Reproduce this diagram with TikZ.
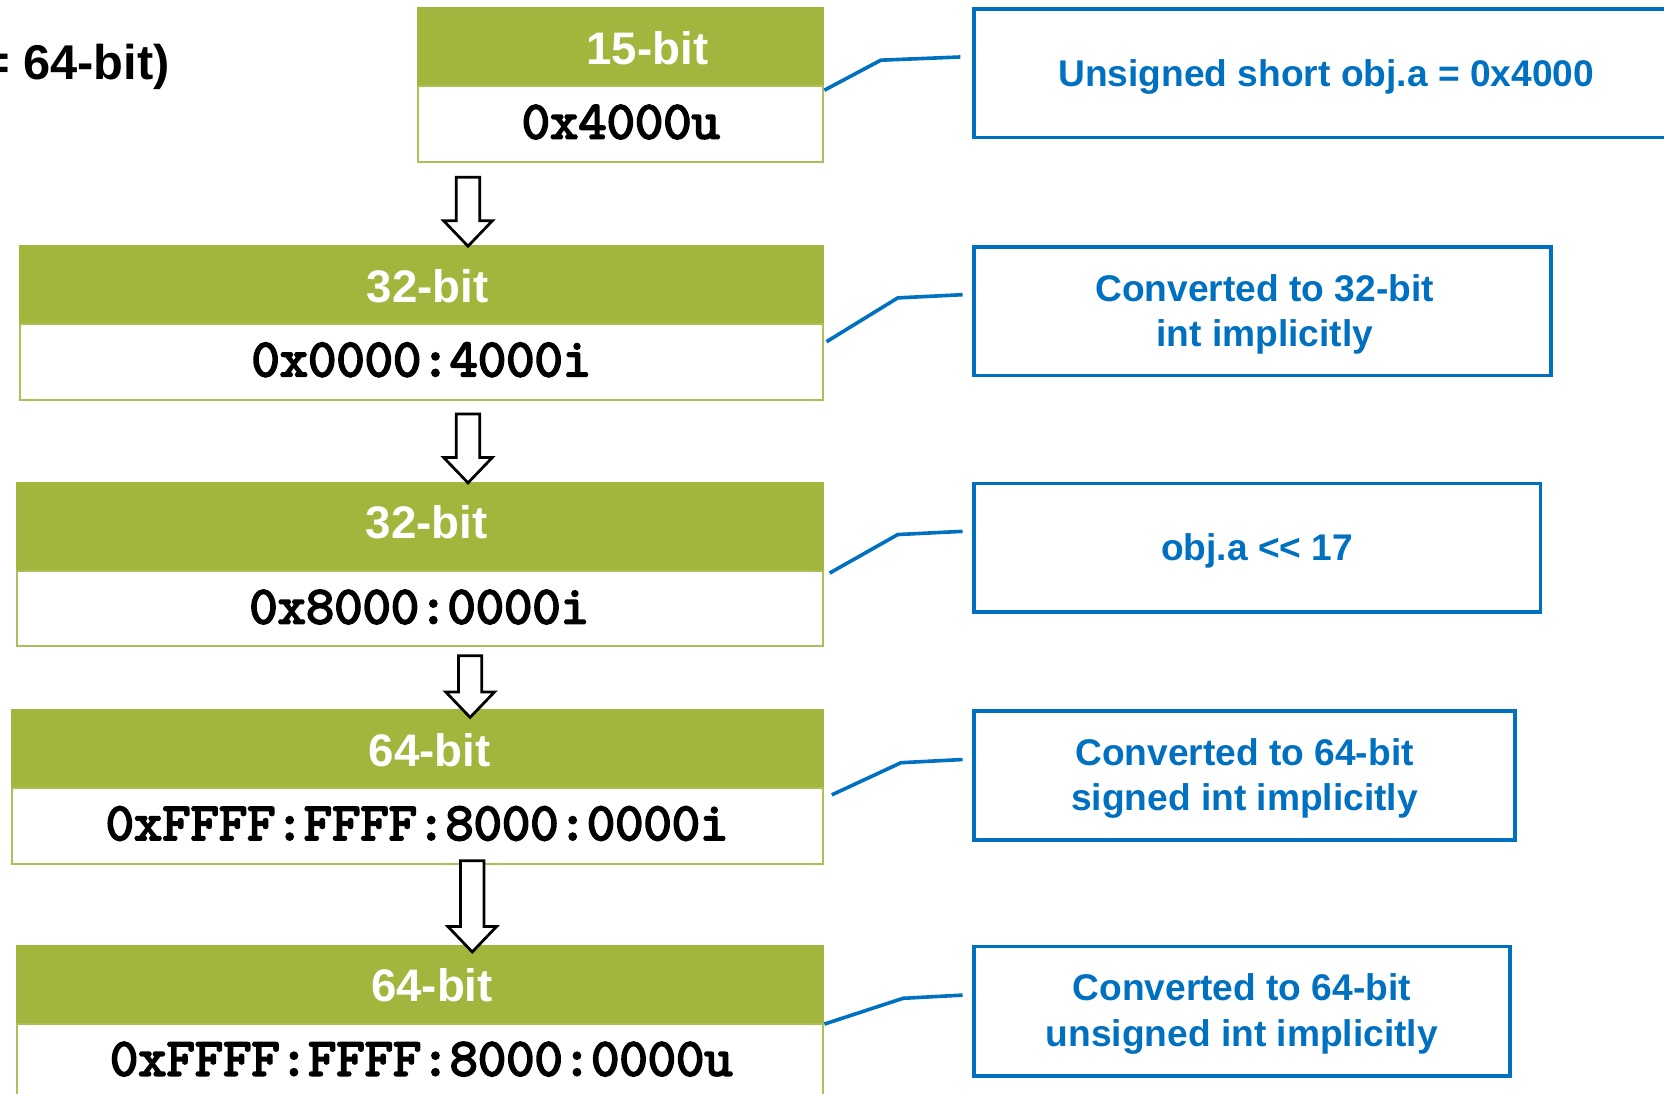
\documentclass[tikz,border=0pt]{standalone}
\usepackage{fontspec}
\setmainfont{Liberation Sans}
\newfontfamily\monob{lmmono10-regular.otf}[FakeBold=3.5]
\usetikzlibrary{calc}
\definecolor{olive}{RGB}{161,182,60}
\definecolor{oliveline}{RGB}{172,192,88}
\definecolor{bblue}{RGB}{0,112,192}
\newcommand\blockarr[2]{\draw[arrowline] ($(#1)+(-11,0)$) -- ($(#1)+(11,0)$) -- ($(#2)+(11,-24)$) -- ($(#2)+(23,-24)$) -- (#2) -- ($(#2)+(-23,-24)$) -- ($(#2)+(-11,-24)$) -- cycle;}
\begin{document}
\begin{tikzpicture}[x=1pt,y=-1pt,
  hdr/.style={draw=olive, fill=olive, line width=1.5pt, anchor=north west, inner sep=0pt},
  body/.style={draw=oliveline, fill=white, line width=1.8pt, anchor=north west, inner sep=0pt},
  hdrtxt/.style={text=white, font=\fontsize{43}{50}\selectfont\bfseries, inner sep=0pt},
  monotxt/.style={text=black, font=\fontsize{50.8}{60}\selectfont\monob, inner sep=0pt},
  note/.style={draw=bblue, line width=3.4pt, anchor=north west, inner sep=0pt},
  notetxt/.style={inner sep=0pt, align=center, text=bblue, font=\fontsize{35}{43}\selectfont\bfseries},
  conn/.style={draw=bblue, line width=3.4pt},
  arrowline/.style={draw=black, fill=white, line width=2.6pt, line join=miter}
]
\useasboundingbox (0,0) rectangle (1568,1030);
\fill[white] (0,0) rectangle (1568,1030);

% title fragment
\node[anchor=base east, inner sep=0pt, font=\fontsize{46}{54}\selectfont\bfseries] (title) at (160,75) {= 64-bit)};

% left column boxes
\node[hdr, minimum width=382pt, minimum height=73pt] (h1) at (393,7) {};
\node[body, minimum width=382pt, minimum height=72pt] (b1) at (393,80) {};
\node[hdrtxt] (h1t) at (610,45) {15-bit};
\node[monotxt] (b1t) at (585,115) {0x4000u};

\node[hdr, minimum width=757pt, minimum height=73pt] (h2) at (18,231) {};
\node[body, minimum width=757pt, minimum height=72pt] (b2) at (18,304) {};
\node[hdrtxt] (h2t) at (403,270) {32-bit};
\node[monotxt] (b2t) at (397,339) {0x0000:4000i};

\node[hdr, minimum width=760pt, minimum height=83pt] (h3) at (15,454) {};
\node[body, minimum width=760pt, minimum height=71pt] (b3) at (15,537) {};
\node[hdrtxt] (h3t) at (402,492) {32-bit};
\node[monotxt] (b3t) at (395,572) {0x8000:0000i};

\node[hdr, minimum width=765pt, minimum height=74pt] (h4) at (10,668) {};
\node[body, minimum width=765pt, minimum height=71pt] (b4) at (10,742) {};
\node[hdrtxt] (h4t) at (405,707) {64-bit};
\node[monotxt] (b4t) at (393,776) {0xFFFF:FFFF:8000:0000i};

\node[hdr, minimum width=760pt, minimum height=74pt] (h5) at (15,890) {};
\node[body, minimum width=760pt, minimum height=74pt] (b5) at (15,964) {};
\node[hdrtxt] (h5t) at (407,928) {64-bit};
\node[monotxt] (b5t) at (397,998) {0xFFFF:FFFF:8000:0000u};

% block arrows
\coordinate (a1s) at (441,167); \coordinate (a1e) at (441,232);
\coordinate (a2s) at (441,390); \coordinate (a2e) at (441,455);
\coordinate (a3s) at (443,618); \coordinate (a3e) at (443,676);
\coordinate (a4s) at (445,811); \coordinate (a4e) at (445,897);
\blockarr{a1s}{a1e}
\blockarr{a2s}{a2e}
\blockarr{a3s}{a3e}
\blockarr{a4s}{a4e}

% notes
\node[note, minimum width=664pt, minimum height=121pt] (n1) at (916,7) {};
\node[note, minimum width=544pt, minimum height=121pt] (n2) at (916,231) {};
\node[note, minimum width=534pt, minimum height=121pt] (n3) at (916,454) {};
\node[note, minimum width=510pt, minimum height=122pt] (n4) at (916,668) {};
\node[note, minimum width=505pt, minimum height=122pt] (n5) at (916,890) {};
\node[notetxt] (n1t) at ($(n1.center)+(0,3)$) {Unsigned short obj.a = 0x4000};
\node[notetxt] (n2t) at ($(n2.center)+(2,3)$) {Converted to 32-bit\\int implicitly};
\node[notetxt] (n3t) at ($(n3.center)+(0,3)$) {obj.a {<}{<} 17};
\node[notetxt] (n4t) at ($(n4.center)+(0,3)$) {Converted to 64-bit\\signed int implicitly};
\node[notetxt] (n5t) at ($(n5.center)+(0,3)$) {Converted to 64-bit\\unsigned int implicitly};

% connectors
\draw[conn] ($(b1.north east)+(0,5)$) -- ($(n1.west)+(-86,-12.5)$) -- ($(n1.west)+(-11,-15.5)$);
\draw[conn] ($(b2.north east)+(2,18)$) -- ($(n2.west)+(-70,-12.5)$) -- ($(n2.west)+(-9,-15.5)$);
\draw[conn] ($(b3.north east)+(5,3)$) -- ($(n3.west)+(-70,-12.5)$) -- ($(n3.west)+(-9,-15.5)$);
\draw[conn] ($(b4.north east)+(7,7)$) -- ($(n4.west)+(-67,-12)$) -- ($(n4.west)+(-9,-15)$);
\draw[conn] ($(b5.north east)+(0,1)$) -- ($(n5.west)+(-65,-12)$) -- ($(n5.west)+(-9,-15)$);
\end{tikzpicture}
\end{document}
